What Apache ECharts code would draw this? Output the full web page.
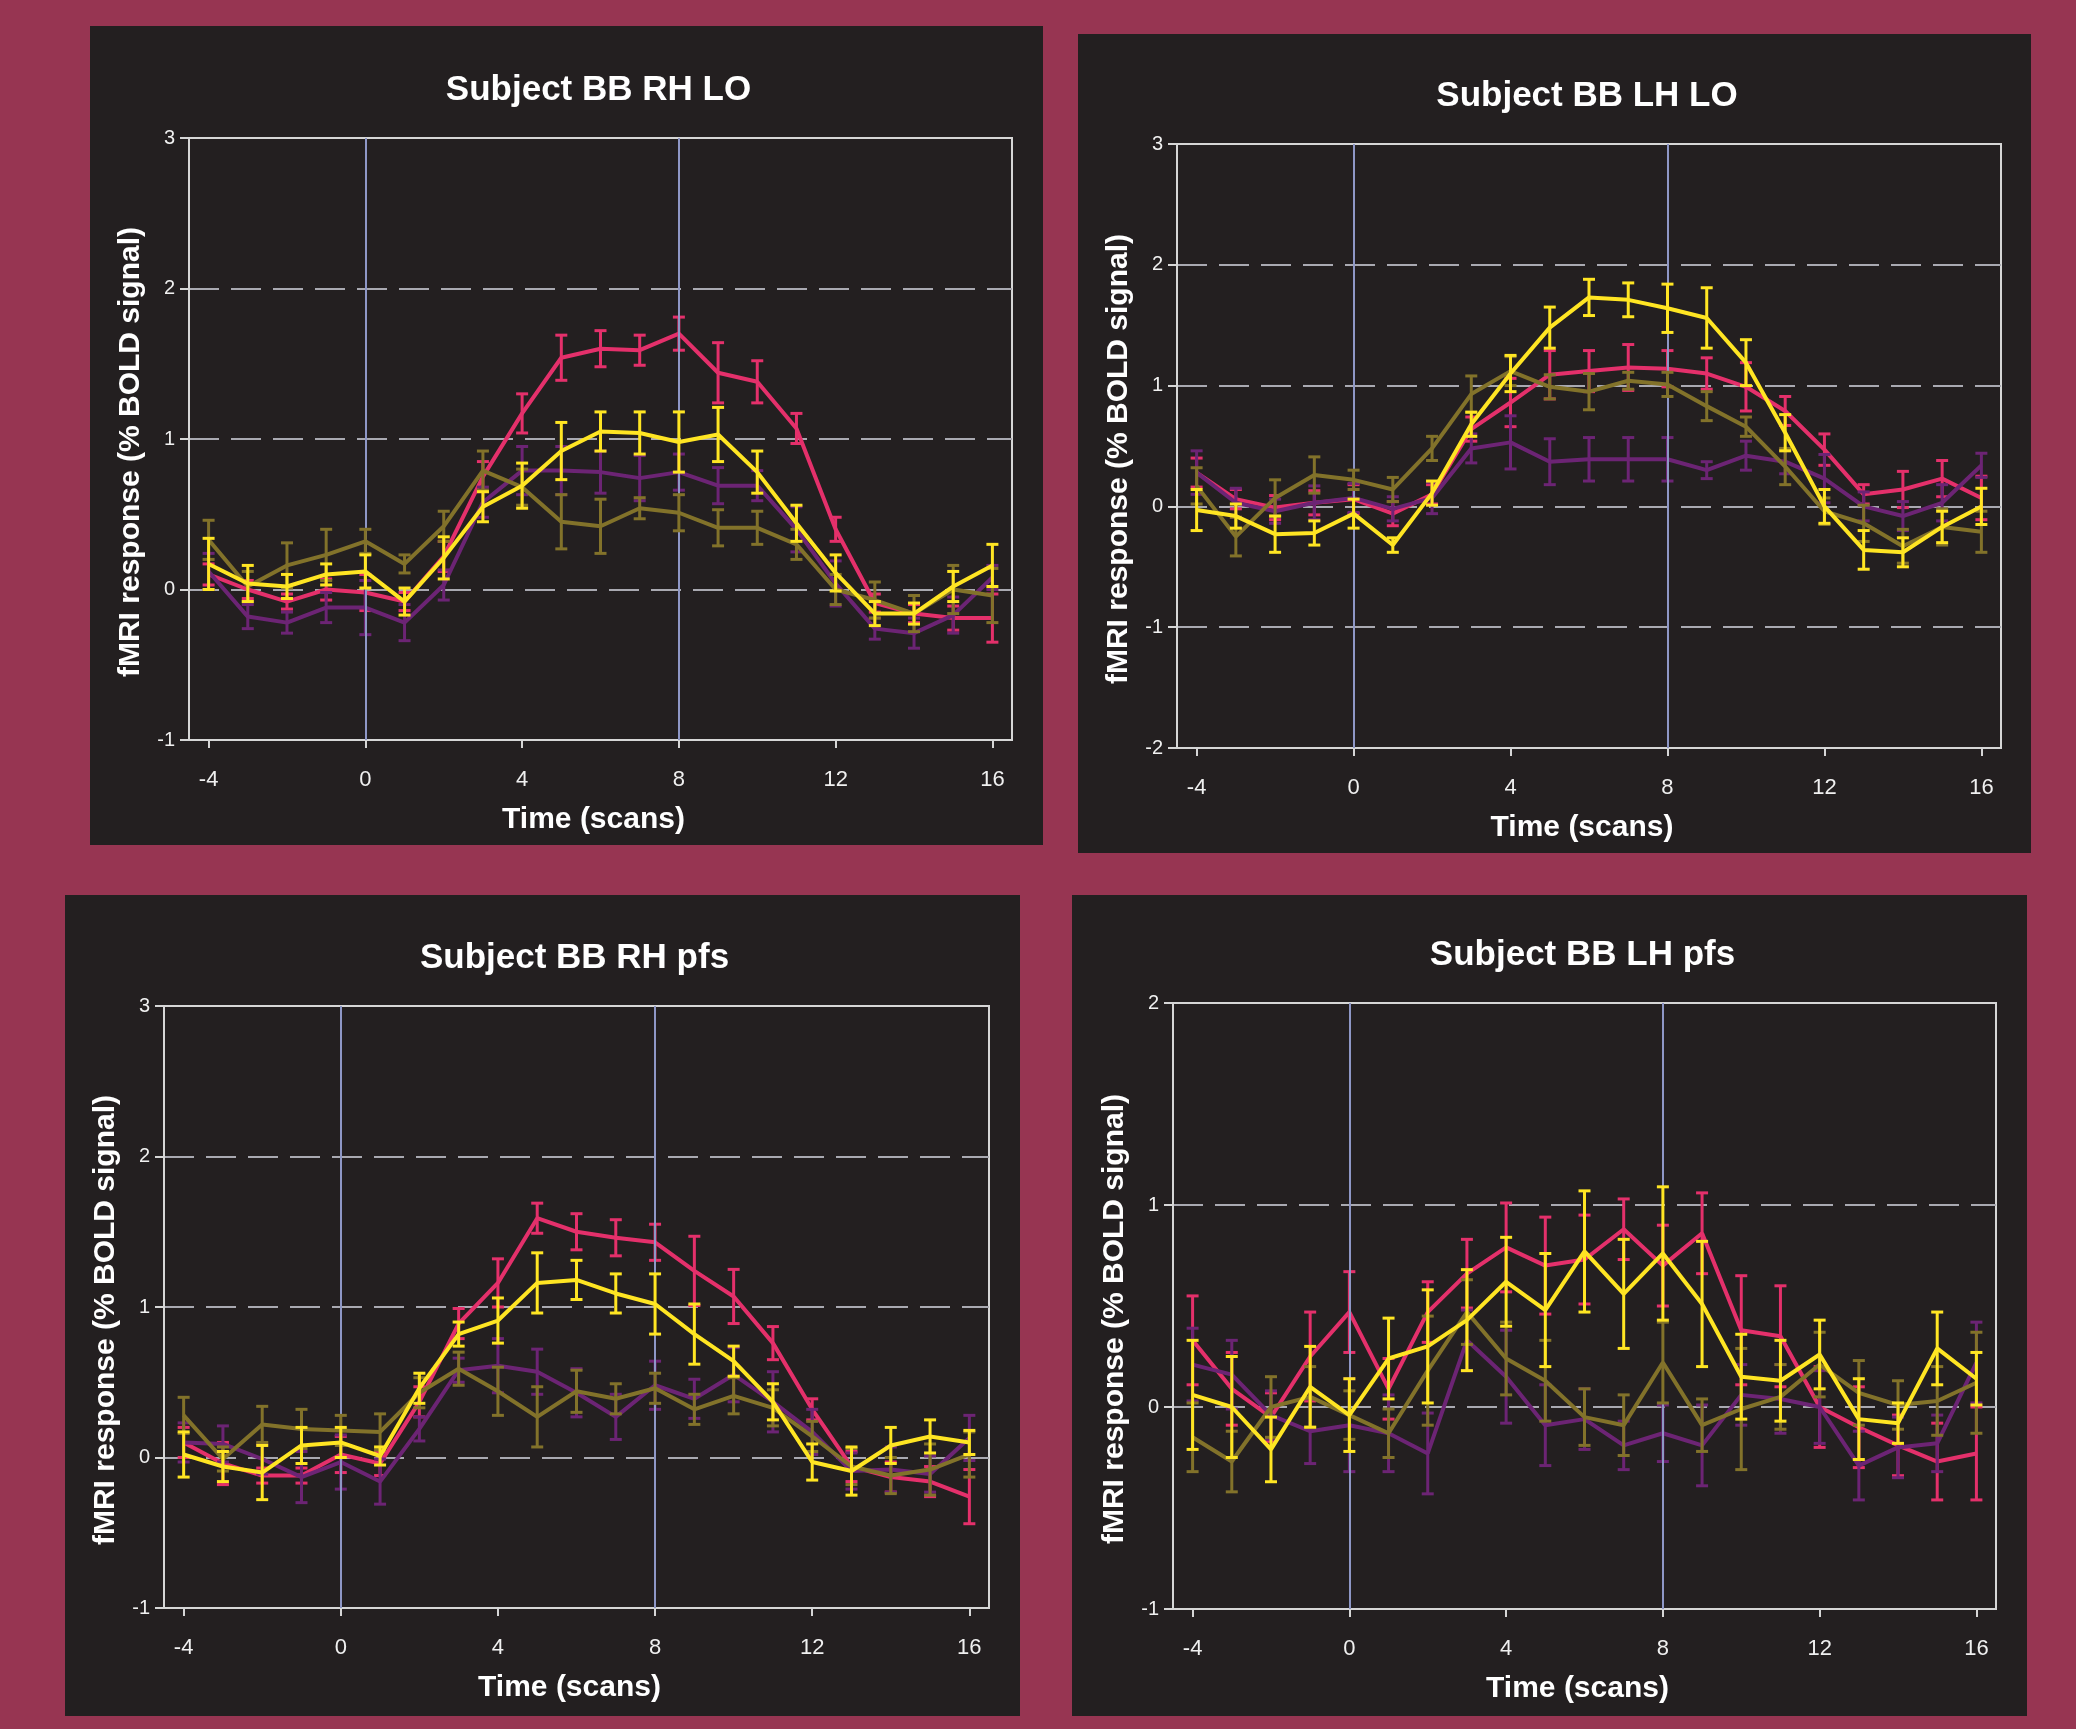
<!DOCTYPE html>
<html><head><meta charset="utf-8">
<script src="https://cdn.jsdelivr.net/npm/echarts@6/dist/echarts.min.js"></script>
<style>html,body{margin:0;padding:0;background:#973552;}#c{width:2076px;height:1729px;}</style>
</head><body><div id="c"></div>
<script>
// ---- data ----
const xs = [-4,-3,-2,-1,0,1,2,3,4,5,6,7,8,9,10,11,12,13,14,15,16];
const xTicks = [-4,0,4,8,12,16];
const markX = [0, 8];
const titles = ['Subject BB RH LO','Subject BB LH LO','Subject BB RH pfs','Subject BB LH pfs'];
const xName = 'Time (scans)';
const yName = 'fMRI response (% BOLD signal)';

// Panel 1: RH LO
const p1Red    = [0.10,0.00,-0.08,0.00,-0.02,-0.08,0.22,0.75,1.17,1.54,1.60,1.59,1.70,1.44,1.38,1.07,0.40,-0.09,-0.16,-0.19,-0.19];
const p1RedErr = [0.07,0.06,0.05,0.07,0.12,0.06,0.10,0.10,0.13,0.15,0.12,0.10,0.11,0.20,0.14,0.10,0.08,0.06,0.06,0.08,0.16];
const p1Yel    = [0.17,0.04,0.02,0.10,0.12,-0.08,0.21,0.55,0.69,0.92,1.05,1.04,0.98,1.03,0.78,0.44,0.11,-0.16,-0.16,0.02,0.16];
const p1YelErr = [0.17,0.12,0.08,0.07,0.11,0.09,0.14,0.10,0.15,0.19,0.13,0.14,0.20,0.18,0.14,0.12,0.12,0.08,0.07,0.10,0.14];
const p1Pur    = [0.12,-0.18,-0.22,-0.12,-0.12,-0.22,0.03,0.58,0.79,0.79,0.78,0.74,0.78,0.69,0.69,0.40,0.04,-0.26,-0.29,-0.17,0.08];
const p1PurErr = [0.12,0.08,0.07,0.10,0.18,0.12,0.10,0.10,0.16,0.16,0.14,0.15,0.12,0.12,0.10,0.15,0.15,0.07,0.10,0.12,0.08];
const p1Oli    = [0.33,0.02,0.16,0.23,0.32,0.17,0.42,0.79,0.68,0.45,0.42,0.54,0.51,0.41,0.41,0.30,0.00,-0.07,-0.16,0.00,-0.04];
const p1OliErr = [0.13,0.10,0.15,0.17,0.08,0.06,0.10,0.13,0.12,0.18,0.18,0.07,0.12,0.12,0.11,0.10,0.10,0.12,0.12,0.16,0.18];

// Panel 2: LH LO
const p2Red    = [0.28,0.06,-0.01,0.03,0.06,-0.06,0.10,0.64,0.86,1.09,1.12,1.15,1.14,1.10,0.99,0.79,0.47,0.10,0.14,0.23,0.07];
const p2RedErr = [0.12,0.08,0.10,0.10,0.12,0.10,0.08,0.10,0.20,0.20,0.17,0.19,0.15,0.13,0.20,0.12,0.13,0.08,0.15,0.15,0.18];
const p2Yel    = [-0.03,-0.08,-0.23,-0.22,-0.06,-0.32,0.11,0.68,1.10,1.48,1.73,1.71,1.64,1.56,1.19,0.61,0.00,-0.36,-0.38,-0.17,0.00];
const p2YelErr = [0.17,0.10,0.15,0.10,0.12,0.06,0.10,0.10,0.15,0.17,0.15,0.14,0.20,0.25,0.19,0.15,0.14,0.16,0.12,0.13,0.15];
const p2Pur    = [0.28,0.03,-0.04,0.03,0.07,-0.02,0.07,0.48,0.53,0.37,0.39,0.39,0.39,0.30,0.42,0.37,0.23,0.00,-0.08,0.03,0.34];
const p2PurErr = [0.18,0.12,0.10,0.14,0.12,0.10,0.13,0.12,0.22,0.19,0.18,0.18,0.18,0.07,0.12,0.10,0.20,0.12,0.12,0.15,0.10];
const p2Oli    = [0.17,-0.25,0.07,0.26,0.22,0.14,0.48,0.93,1.12,0.99,0.95,1.04,1.01,0.83,0.66,0.33,-0.04,-0.14,-0.33,-0.17,-0.21];
const p2OliErr = [0.15,0.16,0.15,0.15,0.08,0.10,0.10,0.15,0.12,0.10,0.15,0.07,0.10,0.12,0.08,0.15,0.11,0.15,0.14,0.15,0.17];

// Panel 3: RH pfs
const p3Red    = [0.10,-0.04,-0.12,-0.12,0.02,-0.04,0.37,0.89,1.16,1.59,1.50,1.46,1.43,1.24,1.07,0.76,0.32,-0.06,-0.13,-0.16,-0.26];
const p3RedErr = [0.10,0.14,0.05,0.05,0.12,0.08,0.10,0.10,0.16,0.10,0.12,0.12,0.12,0.23,0.18,0.11,0.07,0.10,0.10,0.10,0.18];
const p3Yel    = [0.02,-0.06,-0.10,0.08,0.10,0.01,0.46,0.82,0.91,1.16,1.18,1.09,1.02,0.82,0.64,0.37,-0.03,-0.09,0.08,0.14,0.10];
const p3YelErr = [0.15,0.10,0.18,0.12,0.10,0.06,0.10,0.08,0.15,0.20,0.13,0.13,0.20,0.20,0.10,0.12,0.12,0.16,0.12,0.11,0.08];
const p3Pur    = [0.10,0.09,-0.01,-0.13,-0.03,-0.16,0.19,0.58,0.61,0.57,0.43,0.27,0.48,0.39,0.55,0.37,0.17,-0.09,-0.08,-0.11,0.13];
const p3PurErr = [0.13,0.12,0.10,0.17,0.18,0.15,0.08,0.08,0.18,0.15,0.16,0.15,0.16,0.13,0.18,0.20,0.15,0.12,0.15,0.12,0.15];
const p3Oli    = [0.28,-0.01,0.22,0.19,0.18,0.17,0.43,0.59,0.44,0.27,0.44,0.39,0.46,0.32,0.41,0.33,0.14,-0.06,-0.12,-0.08,0.02];
const p3OliErr = [0.12,0.08,0.12,0.13,0.10,0.12,0.10,0.11,0.16,0.20,0.14,0.10,0.10,0.10,0.12,0.12,0.10,0.12,0.12,0.17,0.15];

// Panel 4: LH pfs
const p4Red    = [0.33,0.09,-0.05,0.25,0.47,0.09,0.47,0.66,0.79,0.70,0.73,0.88,0.70,0.86,0.38,0.35,0.00,-0.10,-0.19,-0.27,-0.23];
const p4RedErr = [0.22,0.18,0.12,0.22,0.20,0.15,0.15,0.17,0.22,0.24,0.22,0.15,0.20,0.20,0.27,0.25,0.20,0.20,0.15,0.19,0.23];
const p4Yel    = [0.06,0.00,-0.21,0.10,-0.04,0.24,0.30,0.43,0.62,0.48,0.77,0.56,0.76,0.51,0.15,0.13,0.26,-0.06,-0.08,0.29,0.14];
const p4YelErr = [0.27,0.25,0.16,0.20,0.18,0.20,0.28,0.25,0.22,0.28,0.30,0.27,0.33,0.31,0.21,0.20,0.17,0.20,0.10,0.18,0.13];
const p4Pur    = [0.21,0.16,-0.04,-0.12,-0.09,-0.13,-0.23,0.33,0.15,-0.09,-0.06,-0.19,-0.13,-0.19,0.06,0.04,0.00,-0.29,-0.20,-0.18,0.22];
const p4PurErr = [0.18,0.17,0.12,0.16,0.23,0.19,0.20,0.15,0.23,0.20,0.15,0.12,0.14,0.20,0.15,0.17,0.18,0.17,0.15,0.14,0.20];
const p4Oli    = [-0.15,-0.27,0.00,0.05,-0.04,-0.13,0.18,0.47,0.24,0.13,-0.05,-0.09,0.22,-0.09,-0.01,0.05,0.21,0.07,0.01,0.03,0.12];
const p4OliErr = [0.17,0.15,0.15,0.15,0.12,0.12,0.27,0.16,0.18,0.20,0.14,0.15,0.20,0.13,0.30,0.16,0.16,0.16,0.12,0.17,0.25];

const yRanges = [[-1,3],[-2,3],[-1,3],[-1,2]];

// ---- styling / layout ----
const C = {red:'#e4306b', yel:'#ffe523', pur:'#6c2474', oli:'#82722a'};
const FONT = '"Liberation Sans", Arial, Helvetica, sans-serif';
const panelRects = [[90,26,953,819],[1078,34,953,819],[65,895,955,821],[1072,895,955,821]];
const grids = [
  {left:189, top:138, width:823, height:602},
  {left:1177, top:144, width:824, height:604},
  {left:164, top:1006, width:825, height:602},
  {left:1173, top:1003, width:823, height:606}
];
const panelSeries = [
  [[p1Red,p1RedErr,C.red],[p1Pur,p1PurErr,C.pur],[p1Oli,p1OliErr,C.oli],[p1Yel,p1YelErr,C.yel]],
  [[p2Red,p2RedErr,C.red],[p2Pur,p2PurErr,C.pur],[p2Oli,p2OliErr,C.oli],[p2Yel,p2YelErr,C.yel]],
  [[p3Red,p3RedErr,C.red],[p3Pur,p3PurErr,C.pur],[p3Oli,p3OliErr,C.oli],[p3Yel,p3YelErr,C.yel]],
  [[p4Red,p4RedErr,C.red],[p4Pur,p4PurErr,C.pur],[p4Oli,p4OliErr,C.oli],[p4Yel,p4YelErr,C.yel]]
];

function errRender(color){
  return function(params, api){
    const x = api.value(0), y = api.value(1), e = api.value(2);
    const a = api.coord([x, y + e]), b = api.coord([x, y - e]);
    const w = 6, st = {stroke: color, lineWidth: 3};
    return {type:'group', children:[
      {type:'line', shape:{x1:a[0],y1:a[1],x2:b[0],y2:b[1]}, style:st},
      {type:'line', shape:{x1:a[0]-w,y1:a[1],x2:a[0]+w,y2:a[1]}, style:st},
      {type:'line', shape:{x1:b[0]-w,y1:b[1],x2:b[0]+w,y2:b[1]}, style:st}
    ]};
  };
}

const axisCol = '#d6d6d6';
const option = {
  backgroundColor:'#973552',
  animation:false,
  graphic: [],
  grid: [], xAxis: [], yAxis: [], series: []
};

panelRects.forEach((r,i)=>{
  option.graphic.push({type:'rect', z:-10, shape:{x:r[0],y:r[1],width:r[2],height:r[3]}, style:{fill:'#231f20'}});
  const g = grids[i];
  option.graphic.push({type:'text', z:10, x:g.left + g.width/2 - 2, y:g.top - 48,
    style:{text:titles[i], fill:'#ffffff', font:'bold 35px ' + FONT, textAlign:'center', textVerticalAlign:'middle'}});
});

grids.forEach((g,i)=>{
  option.grid.push(Object.assign({show:true, borderColor:axisCol, borderWidth:2, backgroundColor:'transparent', outerBoundsMode:'none', containLabel:false}, g));
  option.xAxis.push({
    type:'value', gridIndex:i, min:-4.5, max:16.5,
    name:xName, nameLocation:'middle', nameGap:65,
    nameTextStyle:{color:'#ffffff', fontSize:30, fontWeight:'bold', fontFamily:FONT, padding:[0,14,0,0]},
    axisLine:{show:true, onZero:false, lineStyle:{color:axisCol, width:2}},
    axisTick:{show:true, customValues:xTicks, length:8, lineStyle:{color:axisCol, width:2}},
    axisLabel:{show:true, customValues:xTicks, margin:29, color:'#f0f0f0', fontSize:22, fontFamily:FONT},
    splitLine:{show:false}
  });
  option.yAxis.push({
    type:'value', gridIndex:i, min:yRanges[i][0], max:yRanges[i][1], interval:1,
    name:yName, nameLocation:'middle', nameRotate:90, nameGap:43,
    nameTextStyle:{color:'#ffffff', fontSize:30, fontWeight:'bold', fontFamily:FONT, padding:[0,26,0,0]},
    axisLine:{show:true, onZero:false, lineStyle:{color:axisCol, width:2}},
    axisTick:{show:true, length:9, lineStyle:{color:axisCol, width:2}},
    axisLabel:{show:true, margin:14, color:'#f0f0f0', fontSize:20, fontFamily:FONT},
    splitLine:{show:true, showMinLine:false, showMaxLine:false, lineStyle:{color:'#a9a9b1', width:2, type:[30,12]}}
  });
  // vertical reference lines
  option.series.push({
    type:'line', xAxisIndex:i, yAxisIndex:i, data:[], z:1, silent:true,
    markLine:{silent:true, symbol:['none','none'], label:{show:false}, animation:false,
      lineStyle:{color:'#8e97c6', width:2, type:'solid'},
      data: markX.map(v=>({xAxis:v}))}
  });
  panelSeries[i].forEach((s,k)=>{
    const vals = s[0], errs = s[1], col = s[2];
    option.series.push({
      type:'custom', xAxisIndex:i, yAxisIndex:i, z:3+k, silent:true,
      renderItem: errRender(col), encode:{x:0, y:1},
      data: xs.map((x,j)=>[x, vals[j], errs[j]])
    });
    option.series.push({
      type:'line', xAxisIndex:i, yAxisIndex:i, z:3+k, silent:true,
      symbol:'none', showSymbol:false,
      lineStyle:{color:col, width:4},
      itemStyle:{color:col},
      data: xs.map((x,j)=>[x, vals[j]])
    });
  });
});

const chart = echarts.init(document.getElementById('c'), null, {renderer:'canvas'});
chart.setOption(option);
</script>
</body></html>
